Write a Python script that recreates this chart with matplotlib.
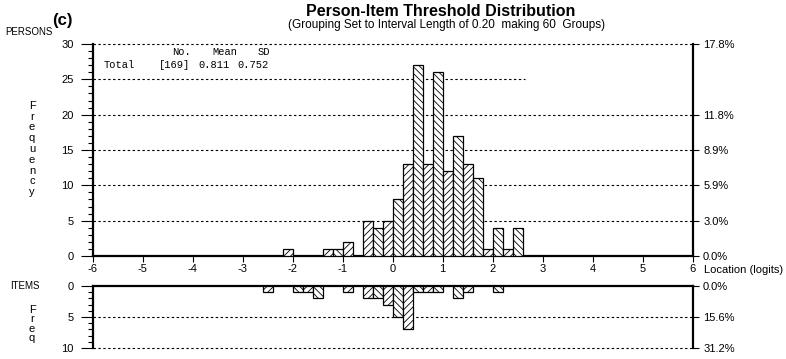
import matplotlib
matplotlib.use("Agg")
from matplotlib import pyplot as plt
from matplotlib.ticker import MultipleLocator, FixedLocator

# Person thresholds: left edge of each 0.2-logit group and its count
person_left = [-2.2, -1.4, -1.2, -1.0, -0.6, -0.4, -0.2, 0.0, 0.2, 0.4,
               0.6, 0.8, 1.0, 1.2, 1.4, 1.6, 1.8, 2.0, 2.2, 2.4]
person_count = [1, 1, 1, 2, 5, 4, 5, 8, 13, 27,
                13, 26, 12, 17, 13, 11, 1, 4, 1, 4]

# Item thresholds
item_left = [-2.6, -2.0, -1.8, -1.6, -1.0, -0.6, -0.4, -0.2, 0.0, 0.2,
             0.4, 0.6, 0.8, 1.2, 1.4, 2.0]
item_count = [1, 1, 1, 2, 1, 2, 2, 3, 5, 7, 1, 1, 1, 2, 1, 1]

person_mean = "0.811"
person_sd = "0.752"
x_ticks = [-6, -5, -4, -3, -2, -1, 0, 1, 2, 3, 4, 5, 6]
person_grid = [5, 10, 15, 20, 30]
person_pct_ticks = [0, 5, 10, 15, 20, 30]
item_grid = [5, 10]
item_pct_ticks = [0, 5, 10]

W, H = 786, 359
plt.rcParams['font.family'] = ['Liberation Sans', 'DejaVu Sans']
plt.rcParams['hatch.linewidth'] = 0.6

fig = plt.figure(figsize=(W / 100, H / 100), dpi=100)


def fx(px):
    return px / W


def fy(py):
    return 1 - py / H


width = 0.2
left_px, right_px = 92.7, 692.7
ax = fig.add_axes([fx(left_px), fy(256), fx(right_px - left_px), (256 - 44) / H])
ax2 = fig.add_axes([fx(left_px), fy(348), fx(right_px - left_px), (348 - 286) / H])

dash = (0, (2.2, 2.2))


def hatch_for(x):
    idx = int(round((x + 6) / width))
    return '\\\\\\\\\\' if idx % 2 == 0 else '/////'


def draw_bars(a, lefts, counts):
    for x, c in zip(lefts, counts):
        a.bar(x, c, width=width, align='edge', facecolor='white',
              edgecolor='black', linewidth=0.9, hatch=hatch_for(x), zorder=3)


# ---- persons ----
draw_bars(ax, person_left, person_count)
for g in person_grid:
    ax.hlines(g, -6, 6, colors='black', linestyles=dash, linewidth=0.8,
              zorder=1, clip_on=False)
ax.hlines(25, -6, 2.65, colors='black', linestyles=dash, linewidth=0.8, zorder=1)
ax.set_xlim(-6, 6)
ax.set_ylim(0, 30)
ax.spines['top'].set_visible(False)
for s in ['left', 'right', 'bottom']:
    ax.spines[s].set_linewidth(1.6)
ax.set_xticks(x_ticks)
ax.set_xticklabels([str(t) for t in x_ticks], fontsize=8)
ax.tick_params(axis='x', direction='out', length=4, width=0.8, pad=2)
ax.yaxis.set_major_locator(MultipleLocator(5))
ax.yaxis.set_minor_locator(MultipleLocator(1))
ax.tick_params(axis='y', which='major', direction='out', length=8.5, width=0.8,
               labelsize=8, pad=5)
ax.tick_params(axis='y', which='minor', direction='out', length=3.6, width=0.8)

total_p = sum(person_count)
axr = ax.twinx()
axr.set_ylim(0, 30)
axr.yaxis.set_major_locator(FixedLocator(person_pct_ticks))
axr.set_yticklabels([f"{v / total_p * 100:.1f}%" for v in person_pct_ticks])
axr.tick_params(axis='y', direction='out', length=4.5, width=0.8, labelsize=8, pad=3)
for s in axr.spines.values():
    s.set_visible(False)

# ---- items ----
draw_bars(ax2, item_left, item_count)
for g in item_grid:
    ax2.hlines(g, -6, 6, colors='black', linestyles=dash, linewidth=0.8,
               zorder=1, clip_on=False)
ax2.set_xlim(-6, 6)
ax2.set_ylim(10, 0)
ax2.spines['bottom'].set_visible(False)
for s in ['left', 'right', 'top']:
    ax2.spines[s].set_linewidth(1.6)
ax2.set_xticks([])
ax2.yaxis.set_major_locator(MultipleLocator(5))
ax2.yaxis.set_minor_locator(MultipleLocator(1))
ax2.tick_params(axis='y', which='major', direction='out', length=8.5, width=0.8,
                labelsize=8, pad=5)
ax2.tick_params(axis='y', which='minor', direction='out', length=3.6, width=0.8)

total_i = sum(item_count)
ax2r = ax2.twinx()
ax2r.set_ylim(10, 0)
ax2r.yaxis.set_major_locator(FixedLocator(item_pct_ticks))
ax2r.set_yticklabels([f"{v / total_i * 100:.1f}%" for v in item_pct_ticks])
ax2r.tick_params(axis='y', direction='out', length=4.5, width=0.8, labelsize=8, pad=3)
for s in ax2r.spines.values():
    s.set_visible(False)

# ---- text ----
fig.text(fx(441), fy(11), "Person-Item Threshold Distribution", fontsize=11.5,
         fontweight='bold', ha='center', va='center')
fig.text(fx(447), fy(25), "(Grouping Set to Interval Length of 0.20  making 60  Groups)",
         fontsize=8.5, ha='center', va='center')
fig.text(fx(52), fy(20), "(c)", fontsize=12, fontweight='bold', ha='left', va='center')
fig.text(fx(5), fy(32), "PERSONS", fontsize=7, ha='left', va='center')
fig.text(fx(10), fy(286), "ITEMS", fontsize=7, ha='left', va='center')
fig.text(fx(704), fy(270), "Location (logits)", fontsize=8, ha='left', va='center')
fig.text(fx(32), fy(149), "\n".join("Frequency"), fontsize=8, ha='center',
         va='center', linespacing=1.1)
fig.text(fx(32), fy(324), "\n".join("Freq"), fontsize=8, ha='center',
         va='center', linespacing=0.95)

mono = dict(family='Liberation Mono', fontsize=7.5, va='center', ha='left')
fig.text(fx(172), fy(52), "No.", **mono)
fig.text(fx(212), fy(52), "Mean", **mono)
fig.text(fx(258), fy(52), "SD", **mono)
fig.text(fx(104), fy(65), "Total", **mono)
fig.text(fx(159), fy(65), f"[{total_p}]", **mono)
fig.text(fx(198), fy(65), person_mean, **mono)
fig.text(fx(237), fy(65), person_sd, **mono)

fig.savefig("out.png", dpi=100)
